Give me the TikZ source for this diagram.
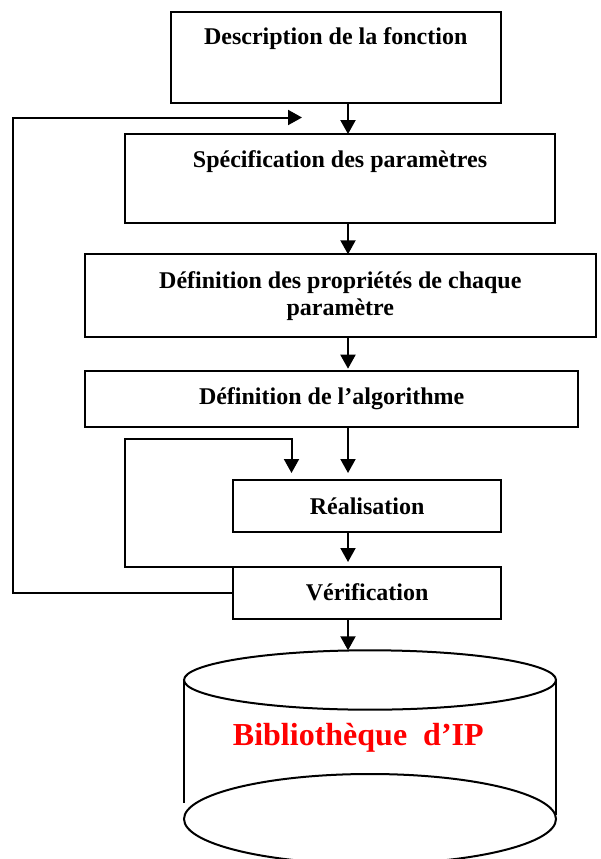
\documentclass[tikz,border=0pt]{standalone}
\usepackage{fontspec}
\setmainfont{Liberation Serif}
\usetikzlibrary{arrows.meta,calc,shapes.geometric}
\begin{document}
\begin{tikzpicture}[x=1pt,y=-1pt,
  box/.style={draw,line width=2pt,rectangle,inner sep=0pt,outer sep=0pt},
  lbl/.style={anchor=base,inner sep=0pt,font=\bfseries\fontsize{24}{27.3}\selectfont,align=center},
  arr/.style={line width=2pt,-{Triangle[length=14pt,width=15pt]}},
  ln/.style={line width=2pt},
  disc/.style={draw,ellipse,line width=2pt,inner sep=0pt,outer sep=0pt}]
\useasboundingbox (0,0) rectangle (601,859);
\clip (0,0) rectangle (601,859);

% boxes
\node[box,minimum width=330pt,minimum height=91pt]   (b1) at (335.7,57.2) {};
\node[box,minimum width=430pt,minimum height=89.3pt] (b2) at (340,178.7) {};
\node[box,minimum width=510.7pt,minimum height=82.4pt] (b3) at (340.35,295.5) {};
\node[box,minimum width=493.3pt,minimum height=56pt] (b4) at (331.65,398.7) {};
\node[box,minimum width=267.7pt,minimum height=51.7pt] (b5) at (367.15,505.85) {};
\node[box,minimum width=267.7pt,minimum height=52pt] (b6) at (367.15,593) {};

% cylinder
\node[disc,minimum width=372pt,minimum height=59.4pt] (cyl) at (370,680) {};
\node[disc,minimum width=372pt,minimum height=90pt] (cylb) at (370,819) {};
\draw[ln] (cyl.west) -- ++(0,123);
\draw[ln] (cyl.east) -- ++(0,135);

% labels
\node[lbl] (t1) at (335.7,45) {Description de la fonction};
\node[lbl] (t2) at (340,167) {Spécification des paramètres};
\node[lbl] (t3) at (340.35,315.6) {Définition des propriétés de chaque\\paramètre};
\node[lbl] (t4) at (331.65,404) {Définition de l’algorithme};
\node[lbl] (t5) at (367.15,514.5) {Réalisation};
\node[lbl] (t6) at (367.15,600) {Vérification};
\node[lbl,font=\bfseries\fontsize{32}{36}\selectfont,text=red] (t7) at (358.3,745) {Bibliothèque\ \ d’IP};

% main arrows
\coordinate (ax) at (348,0);
\draw[arr] (b1.south -| ax) -- (b2.north -| ax);
\draw[arr] (b2.south -| ax) -- (b3.north -| ax);
\draw[arr] (b3.south -| ax) -- ($(b4.north -| ax)+(0,-2)$);
\draw[arr] (b4.south -| ax) -- ($(b5.north -| ax)+(0,-7)$);
\draw[arr] (b5.south -| ax) -- ($(b6.north -| ax)+(0,-5)$);
\draw[arr] (b6.south -| ax) -- (cyl.north -| ax);

% inner loop
\coordinate (ilt) at (291.5,473);
\draw[arr] (b6.north west) -| (125,439) -| (ilt);

% outer loop
\coordinate (fb) at (302,117.5);
\draw[arr] (b6.west) -- ++(-220,0) |- (fb);
\end{tikzpicture}
\end{document}
